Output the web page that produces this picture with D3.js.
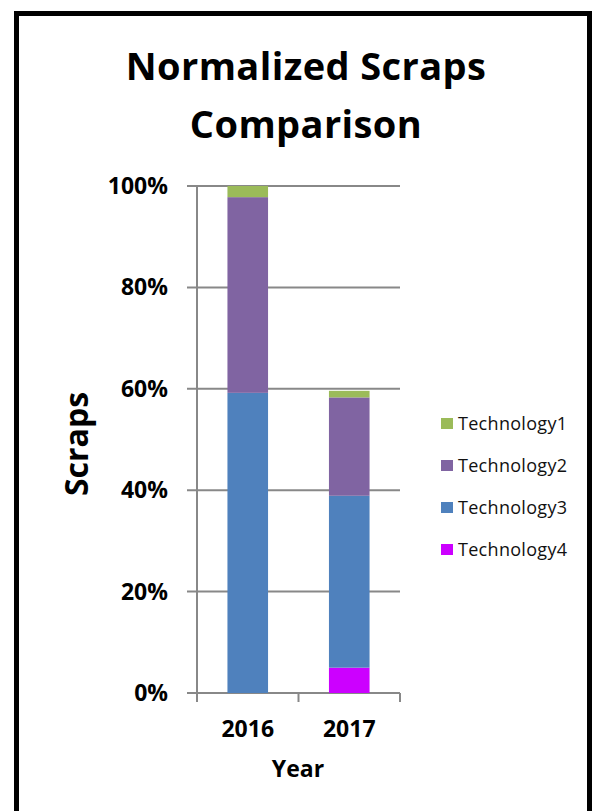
<!DOCTYPE html>
<html><head><meta charset="utf-8">
<script src="https://cdn.jsdelivr.net/npm/d3@7"></script>
<style>body{margin:0;background:#fff;} text{font-family:"Open Sans", "Noto Sans", sans-serif;}</style>
</head><body>
<script>
const years = ["2016", "2017"];
const seriesNames = ["Technology1", "Technology2", "Technology3", "Technology4"];
const technology1 = [2.2, 1.3];
const technology2 = [38.6, 19.4];
const technology3 = [59.2, 33.9];
const technology4 = [0, 5.0];
const yTicks = [0, 20, 40, 60, 80, 100];
const colors = ["#9BBB59", "#8064A2", "#4F81BD", "#CC00FF"];

const W = 594, H = 811;
const svg = d3.select("body").append("svg").attr("width", W).attr("height", H);
svg.append("rect").attr("x", 16.5).attr("y", 13.5).attr("width", 573).attr("height", 820)
  .attr("fill", "#fff").attr("stroke", "#000").attr("stroke-width", 5);

const x0 = 197, x1 = 400, yTop = 186, yBot = 693;
const x = d3.scaleBand().domain(years).range([x0, x1]).paddingInner(0.6).paddingOuter(0.3);
const y = d3.scaleLinear().domain([0, 100]).range([yBot, yTop]);

// gridlines
svg.append("g").selectAll("line").data(yTicks).join("line")
  .attr("x1", x0 - 10).attr("x2", x1).attr("y1", d => y(d)).attr("y2", d => y(d))
  .attr("stroke", "#888").attr("stroke-width", 2);
// y axis line
svg.append("line").attr("x1", x0).attr("x2", x0).attr("y1", yTop).attr("y2", yBot)
  .attr("stroke", "#888").attr("stroke-width", 2);
// x ticks
const xTickPos = [x0, (x0 + x1) / 2, x1];
svg.append("g").selectAll("line").data(xTickPos).join("line")
  .attr("x1", d => d).attr("x2", d => d).attr("y1", yBot).attr("y2", yBot + 9)
  .attr("stroke", "#888").attr("stroke-width", 2);

const rows = years.map((yr, i) => ({year: yr, Technology1: technology1[i], Technology2: technology2[i], Technology3: technology3[i], Technology4: technology4[i]}));
const stack = d3.stack().keys(["Technology4", "Technology3", "Technology2", "Technology1"]);
const stacked = stack(rows);
const colorOf = k => colors[seriesNames.indexOf(k)];

svg.append("g").selectAll("g").data(stacked).join("g")
  .attr("fill", d => colorOf(d.key))
  .selectAll("rect").data(d => d).join("rect")
  .attr("x", d => x(d.data.year)).attr("width", x.bandwidth())
  .attr("y", d => y(d[1])).attr("height", d => y(d[0]) - y(d[1]));

// y tick labels
svg.append("g").selectAll("text").data(yTicks).join("text")
  .attr("x", 168).attr("y", d => y(d) + 8)
  .attr("text-anchor", "end").attr("font-weight", "bold").attr("font-size", 23)
  .text(d => d + "%");
// x tick labels
svg.append("g").selectAll("text").data(years).join("text")
  .attr("x", d => x(d) + x.bandwidth() / 2).attr("y", 737)
  .attr("text-anchor", "middle").attr("font-weight", "bold").attr("font-size", 23)
  .text(d => d);
// axis titles
svg.append("text").attr("x", 298).attr("y", 777).attr("text-anchor", "middle")
  .attr("font-weight", "bold").attr("font-size", 23).text("Year");
svg.append("text").attr("transform", "translate(88,444) rotate(-90)").attr("text-anchor", "middle")
  .attr("font-weight", "bold").attr("font-size", 32).text("Scraps");
// title
const title = svg.append("text").attr("text-anchor", "middle").attr("font-weight", "bold")
  .attr("font-size", 38).attr("letter-spacing", 0.4);
title.append("tspan").attr("x", 306).attr("y", 80).text("Normalized Scraps");
title.append("tspan").attr("x", 306).attr("y", 138).text("Comparison");

// legend
const leg = svg.append("g").selectAll("g").data(seriesNames).join("g")
  .attr("transform", (d, i) => `translate(441, ${430 + i * 42})`);
leg.append("rect").attr("x", 0).attr("y", -12).attr("width", 12).attr("height", 11).attr("fill", (d, i) => colors[i]);
leg.append("text").attr("x", 17).attr("y", 0).attr("font-size", 18).attr("letter-spacing", 0.3)
  .attr("fill", "#111").text(d => d);
</script>
</body></html>
